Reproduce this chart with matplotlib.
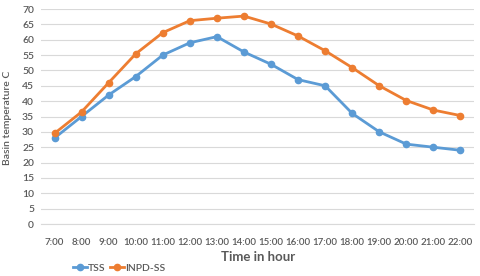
import matplotlib
matplotlib.use("Agg")
import matplotlib.pyplot as plt

hours = ["7:00", "8:00", "9:00", "10:00", "11:00", "12:00", "13:00", "14:00",
         "15:00", "16:00", "17:00", "18:00", "19:00", "20:00", "21:00", "22:00"]
tss = [28, 35, 42, 48, 55, 59, 61, 56, 52, 47, 45, 36, 30, 26, 25, 24]
inpd_ss = [29.5, 36.5, 46, 55.4, 62.3, 66.2, 67, 67.7, 65.1, 61.2, 56.4, 50.9, 45, 40.2, 37.1, 35.3]
yticks = list(range(0, 75, 5))

plt.rcParams['font.family'] = ['Lato', 'DejaVu Sans']

fig = plt.figure(figsize=(4.8, 2.76), dpi=100)
ax = fig.add_axes([41/480, 1 - 224/276, 433/480, 215/276])

x = list(range(len(hours)))
ax.plot(x, tss, color='#5B9BD5', lw=2, marker='o', ms=4.5, label='TSS', zorder=3)
ax.plot(x, inpd_ss, color='#ED7D31', lw=2, marker='o', ms=4.5, label='INPD-SS', zorder=3)

ax.set_xlim(-0.5, len(hours) - 0.5)
ax.set_ylim(0, 70)
ax.set_yticks(yticks)
ax.set_xticks(x)
ax.set_xticklabels(hours)
ax.grid(axis='y', color='#D9D9D9', lw=0.8)
ax.set_axisbelow(True)
for s in ['top', 'right', 'left']:
    ax.spines[s].set_visible(False)
ax.spines['bottom'].set_color('#D9D9D9')
ax.tick_params(length=0, labelsize=7.5, labelcolor='#595959', pad=5)
ax.tick_params(axis='x', labelsize=7, pad=10)
for lbl in ax.get_xticklabels() + ax.get_yticklabels():
    lbl.set_fontweight('semibold')

fig.text(8/480, 1 - 118/276, 'Basin temperature C', rotation=90, ha='center', va='center',
         fontsize=7.5, color='#595959', fontweight='semibold')
fig.text(258/480, 1 - 257/276, 'Time in hour', ha='center', va='center',
         fontsize=9.5, color='#595959', fontweight='bold')
leg = fig.legend(loc='center left', bbox_to_anchor=(73/480, 1 - 268/276), ncol=2, frameon=False,
                 fontsize=7.5, handlelength=1.3, columnspacing=0.5, handletextpad=0.1,
                 borderaxespad=0, borderpad=0)
for t in leg.get_texts():
    t.set_color('#595959')
    t.set_fontweight('semibold')

fig.savefig('out.png', dpi=100)
